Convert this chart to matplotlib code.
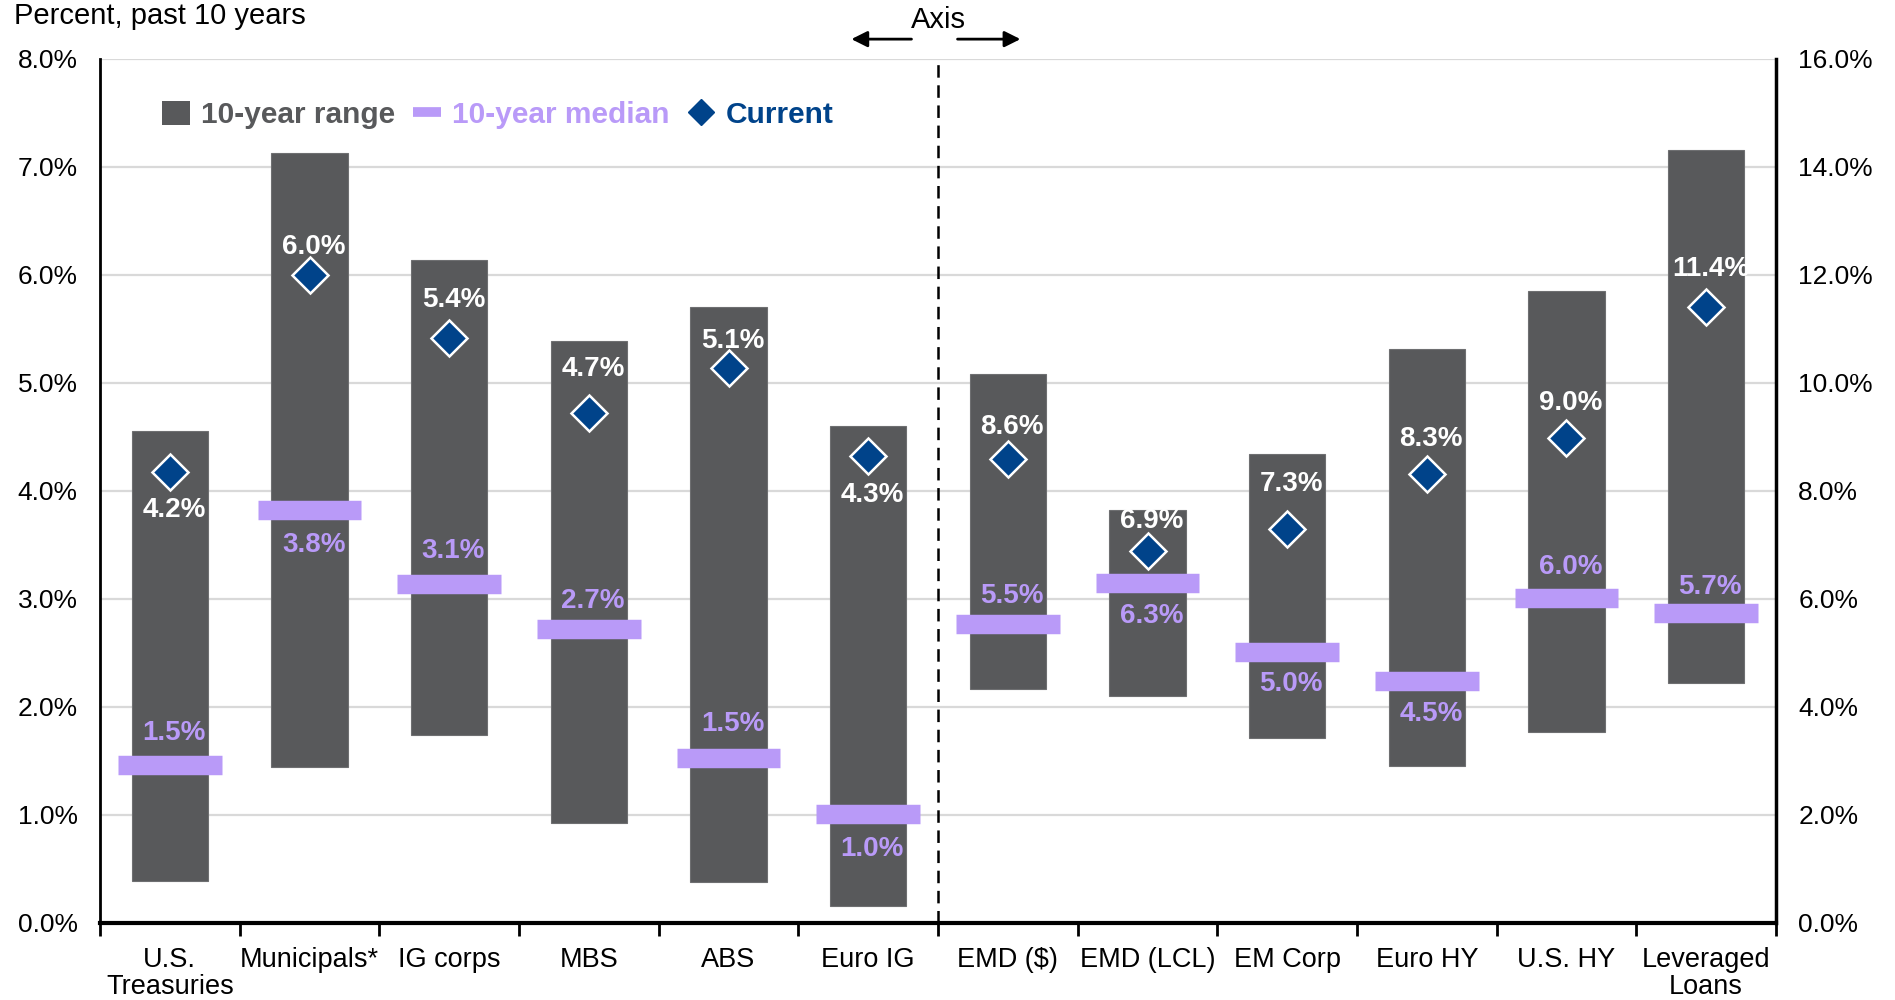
import numpy as np
import matplotlib
matplotlib.use("Agg")
import matplotlib.pyplot as plt
from matplotlib.patches import Patch
from matplotlib.lines import Line2D
from matplotlib import transforms

plt.rcParams['font.family'] = ['Liberation Sans', 'DejaVu Sans']
plt.rcParams['lines.scale_dashes'] = False

# ---------------- data ----------------
categories = ["U.S.\nTreasuries", "Municipals*", "IG corps", "MBS", "ABS", "Euro IG",
              "EMD ($)", "EMD (LCL)", "EM Corp", "Euro HY", "U.S. HY", "Leveraged\nLoans"]

# left-axis group (0-8%)
left_low = [0.39, 1.44, 1.74, 0.93, 0.38, 0.16]
left_high = [4.56, 7.13, 6.14, 5.39, 5.70, 4.60]
left_median = [1.46, 3.82, 3.14, 2.72, 1.53, 1.01]
left_current = [4.18, 6.00, 5.42, 4.72, 5.14, 4.32]

# right-axis group (0-16%)
right_low = [4.34, 4.21, 3.42, 2.90, 3.53, 4.44]
right_high = [10.16, 7.65, 8.68, 10.63, 11.70, 14.32]
right_median = [5.54, 6.30, 5.01, 4.48, 6.02, 5.74]
right_current = [8.59, 6.89, 7.29, 8.32, 8.99, 11.41]

left_ticks = [0, 1, 2, 3, 4, 5, 6, 7, 8]
right_ticks = [0, 2, 4, 6, 8, 10, 12, 14, 16]

# label placement (style): vertical offsets in points (+ above, - below)
current_offset = [-28, 20, 27, 32, 19, -28, 23.5, 21.5, 33, 25, 25, 27]
median_offset = [23.5, -25, 23.5, 20, 24, -25, 20, -24, -22.5, -24, 22.5, 19]

# ---------------- style ----------------
GRAY = '#58595B'
PURPLE = '#B99AF8'
NAVY = '#00438A'
GRID = '#D9D9D9'

fig = plt.figure(figsize=(18.95, 10), dpi=100)
ax = fig.add_axes([100 / 1895, 77 / 1000, 1676 / 1895, 864 / 1000])
ax2 = ax.twinx()

n = len(categories)
x = np.arange(n)
ax.set_xlim(-0.5, n - 0.5)
ax.set_ylim(left_ticks[0], left_ticks[-1])
ax2.set_ylim(right_ticks[0], right_ticks[-1])

ax.set_axisbelow(True)
ax.grid(axis='y', color=GRID, lw=1.6)
ax.set_yticks(left_ticks)
ax.set_yticklabels([f"{v:.1f}%" for v in left_ticks], fontsize=19)
ax2.set_yticks(right_ticks)
ax2.set_yticklabels([f"{v:.1f}%" for v in right_ticks], fontsize=19)
ax.tick_params(axis='y', length=0, pad=16)
ax2.tick_params(axis='y', length=0, pad=16)

ax.set_xticks(x)
ax.set_xticklabels(categories, fontsize=19.5, linespacing=1.05)
ax.set_xticks(np.arange(-0.5, n, 1), minor=True)
ax.tick_params(axis='x', which='major', length=0, pad=17)
ax.tick_params(axis='x', which='minor', length=9, width=2, direction='out', color='black')

for a in (ax, ax2):
    a.spines['top'].set_visible(False)
ax.spines['right'].set_visible(False)
ax2.spines['left'].set_visible(False)
ax2.spines['bottom'].set_visible(False)
ax.spines['left'].set_linewidth(2)
ax.spines['bottom'].set_linewidth(3)
ax2.spines['right'].set_linewidth(2.5)

bar_w = 0.545
med_half = 0.372


def draw_group(a, xs, low, high, med, cur, coff, moff):
    low = np.array(low); high = np.array(high)
    a.bar(xs, high - low, bottom=low, width=bar_w, color=GRAY, edgecolor='#6E6F71',
          linewidth=0.8, zorder=2)
    a.hlines(med, xs - med_half, xs + med_half, color=PURPLE, lw=14, zorder=3)
    a.plot(xs, cur, linestyle='none', marker='D', markersize=18.5, markerfacecolor=NAVY,
           markeredgecolor='white', markeredgewidth=1.8, zorder=4)
    for xi, v, o in zip(xs, cur, coff):
        a.annotate(f"{v:.1f}%", (xi, v), xytext=(3, o),
                   textcoords='offset points', ha='center', va='center',
                   color='white', fontsize=20, fontweight='bold', zorder=5)
    for xi, v, o in zip(xs, med, moff):
        a.annotate(f"{v:.1f}%", (xi, v), xytext=(3, o),
                   textcoords='offset points', ha='center', va='center',
                   color=PURPLE, fontsize=20, fontweight='bold', zorder=5)


k = len(left_low)
draw_group(ax, x[:k], left_low, left_high, left_median, left_current,
           current_offset[:k], median_offset[:k])
draw_group(ax2, x[k:], right_low, right_high, right_median, right_current,
           current_offset[k:], median_offset[k:])

# divider
split = k - 0.5
ax.axvline(split, ymin=0, ymax=1, color='black', lw=1.8, dashes=(9, 5.5), zorder=6)
trans = transforms.blended_transform_factory(ax.transData, ax.transAxes)
ax.text(split, 1.045, "Axis", transform=trans, ha='center', va='center', fontsize=21)
ax.annotate('', xy=(split - 0.64, 1.023), xytext=(split - 0.17, 1.023), xycoords=trans,
            textcoords=trans, arrowprops=dict(arrowstyle='-|>', lw=2, color='black',
                                              mutation_scale=24), annotation_clip=False)
ax.annotate('', xy=(split + 0.61, 1.023), xytext=(split + 0.12, 1.023), xycoords=trans,
            textcoords=trans, arrowprops=dict(arrowstyle='-|>', lw=2, color='black',
                                              mutation_scale=24), annotation_clip=False)

# legend
handles = [Patch(facecolor=GRAY, edgecolor='none'),
           Line2D([], [], color=PURPLE, lw=7, solid_capstyle='butt'),
           Line2D([], [], linestyle='none', marker='D', markersize=13, color=NAVY)]
leg = ax2.legend(handles, ["10-year range", "10-year median", "Current"], ncol=3,
                 loc='center left', bbox_to_anchor=(0.037, 0.935), frameon=False,
                 borderpad=0, borderaxespad=0, handlelength=0.95, handleheight=0.85,
                 handletextpad=0.35, columnspacing=0.6, prop={'size': 21.5, 'weight': 'bold'})
for t, c in zip(leg.get_texts(), [GRAY, PURPLE, NAVY]):
    t.set_color(c)

fig.text(14 / 1895, 0.976, "Percent, past 10 years", fontsize=21, va='baseline', ha='left')

fig.savefig("out.png", dpi=100)
